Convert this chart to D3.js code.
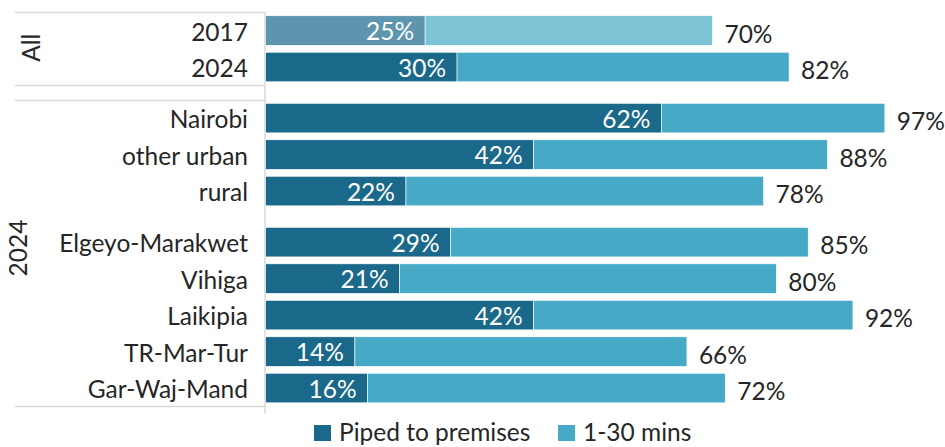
<!DOCTYPE html>
<html>
<head>
<meta charset="utf-8">
<script src="https://cdn.jsdelivr.net/npm/d3@7"></script>
<style>
  html, body { margin: 0; padding: 0; background: #fff; }
  svg { display: block; font-family: Lato, "Open Sans", sans-serif; }
</style>
</head>
<body>
<svg id="chart" width="945" height="447"></svg>
<script>
// ---- data ----
const categories = ["2017", "2024", "Nairobi", "other urban", "rural",
  "Elgeyo-Marakwet", "Vihiga", "Laikipia", "TR-Mar-Tur", "Gar-Waj-Mand"];
const groupOf = [0, 0, 1, 1, 1, 2, 2, 2, 2, 2];          // sub-block of each row
const groupLabels = ["All", "2024"];
const groupRows = [[0, 1], [2, 9]];                       // first/last row of each outer group
const piped = [25, 30, 62, 42, 22, 29, 21, 42, 14, 16];   // Piped to premises (%)
const within30 = [45, 52, 35, 46, 56, 56, 59, 50, 52, 56]; // 1-30 mins (%)
const seriesNames = ["Piped to premises", "1-30 mins"];
const highlightFaded = [true, false, false, false, false, false, false, false, false, false];

// ---- layout ----
const svg = d3.select("#chart");
const colors = { dark: "#1b698a", light: "#46aac6", darkFaded: "#5e95ae", lightFaded: "#7cc3d5" };
const textColor = "#262626";
const gridColor = "#d9d9d9";
const fontSize = 24.5;

const gap = 0.4;
const pos = categories.map((c, i) => i + gap * groupOf[i]);
const y = d3.scaleLinear().domain([-0.5, 10.3]).range([12.3, 406.3]);
const step = y(1) - y(0);
const barH = step * 0.81;
const x = d3.scaleLinear().domain([0, 100]).range([265.5, 904]);

const rows = categories.map((c, i) => ({
  cat: c, p: piped[i], w: within30[i], t: piped[i] + within30[i], y: y(pos[i]), faded: highlightFaded[i]
}));

// axis / separator lines
const axisX = 265;
const lineLeft = 15;
const lines = svg.append("g").attr("stroke", gridColor).attr("stroke-width", 1.5);
lines.append("line").attr("x1", axisX).attr("x2", axisX).attr("y1", y(-0.5)).attr("y2", y(10.3) + 7);
const boundaries = [];
groupRows.forEach(([a, b]) => { boundaries.push(pos[a] - 0.5, pos[b] + 0.5); });
lines.selectAll("line.sep").data(boundaries).join("line").attr("class", "sep")
  .attr("x1", lineLeft).attr("x2", axisX)
  .attr("y1", d => Math.round(y(d)) + 0.5).attr("y2", d => Math.round(y(d)) + 0.5);

// bars
const bars = svg.append("g");
bars.selectAll("rect.p").data(rows).join("rect").attr("class", "p")
  .attr("x", x(0)).attr("y", d => d.y - barH / 2)
  .attr("width", d => x(d.p) - x(0)).attr("height", barH)
  .attr("fill", d => d.faded ? colors.darkFaded : colors.dark)
  .attr("stroke", "#fff").attr("stroke-width", 0.6);
bars.selectAll("rect.w").data(rows).join("rect").attr("class", "w")
  .attr("x", d => x(d.p)).attr("y", d => d.y - barH / 2)
  .attr("width", d => x(d.t) - x(d.p)).attr("height", barH)
  .attr("fill", d => d.faded ? colors.lightFaded : colors.light)
  .attr("stroke", "#fff").attr("stroke-width", 0.6);

// inner labels
svg.append("g").selectAll("text").data(rows).join("text")
  .attr("x", d => x(d.p) - 11).attr("y", d => d.y + 1)
  .attr("dy", "0.35em").attr("text-anchor", "end")
  .attr("fill", "#fff").attr("font-size", fontSize)
  .text(d => d.p + "%");

// total labels
svg.append("g").selectAll("text").data(rows).join("text")
  .attr("x", d => x(d.t) + 12).attr("y", d => d.y + 3.5)
  .attr("dy", "0.35em").attr("fill", textColor).attr("font-size", fontSize)
  .text(d => d.t + "%");

// category labels
svg.append("g").selectAll("text").data(rows).join("text")
  .attr("x", 248).attr("y", d => d.y + 1.5)
  .attr("dy", "0.35em").attr("text-anchor", "end")
  .attr("fill", textColor).attr("font-size", fontSize)
  .text(d => d.cat);

// group labels (rotated)
const groupX = [40, 27];
groupLabels.forEach((g, k) => {
  const [a, b] = groupRows[k];
  const cy = (y(pos[a] - 0.5) + y(pos[b] + 0.5)) / 2 - (k === 1 ? 5 : 1);
  svg.append("text")
    .attr("transform", `translate(${groupX[k]},${cy}) rotate(-90)`)
    .attr("text-anchor", "middle")
    .attr("fill", textColor).attr("font-size", fontSize)
    .text(g);
});

// legend
const legend = svg.append("g").attr("transform", "translate(314,425)");
const legendItems = [
  { name: seriesNames[0], color: colors.dark, dx: 0 },
  { name: seriesNames[1], color: colors.light, dx: 244 }
];
legendItems.forEach(it => {
  const g = legend.append("g").attr("transform", `translate(${it.dx},0)`);
  g.append("rect").attr("width", 17).attr("height", 16).attr("fill", it.color);
  g.append("text").attr("x", 25).attr("y", 15.5)
    .attr("fill", textColor).attr("font-size", fontSize).text(it.name);
});
</script>
</body>
</html>
